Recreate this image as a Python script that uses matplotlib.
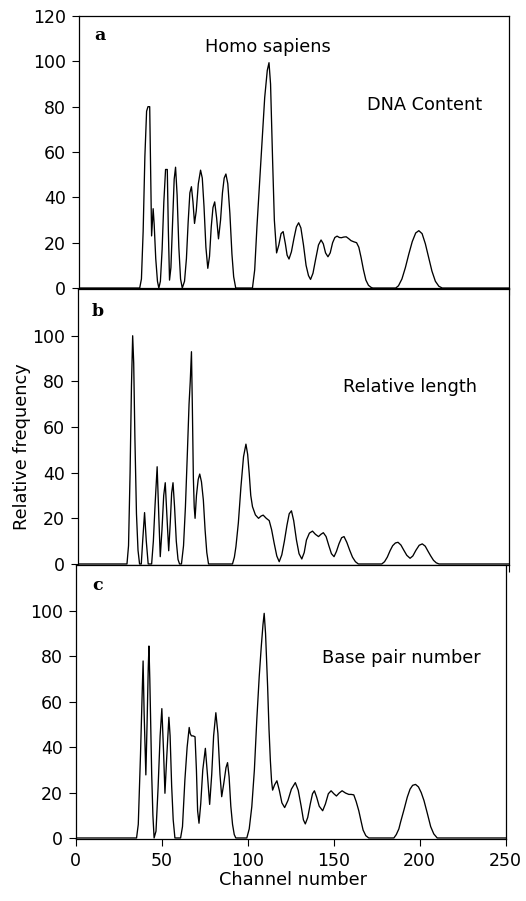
import numpy as np
import matplotlib
matplotlib.use("Agg")
import matplotlib.pyplot as plt

# ---------------- data (channel, relative frequency) ----------------
dna_content = [
    (0, 0), (35.5, 0), (36.5, 4), (37.5, 25), (38.5, 58), (39.5, 78), (40.3, 80), (41.3, 80),
    (41.9, 50), (42.4, 23), (43.3, 35), (43.9, 28), (44.8, 13), (45.8, 3), (46.6, 0), (47.5, 3),
    (48.5, 17), (49.5, 38), (50.5, 52.3), (51.5, 52.3), (52.1, 26), (52.8, 3.5), (53.6, 9),
    (54.6, 30), (55.5, 48), (56.3, 53.3), (57.2, 41), (58.2, 18), (59.2, 4), (60.2, 0), (61.5, 3),
    (62.6, 13), (63.6, 29), (64.6, 42), (65.5, 44.7), (66.4, 38), (67.3, 28.5), (68.3, 34),
    (69.5, 46), (70.8, 52), (71.8, 48.5), (72.8, 36), (73.9, 18), (75.0, 8.7), (76.0, 14),
    (77.0, 27), (78.0, 35.5), (79.0, 38), (80.1, 31), (81.2, 21.7), (82.4, 30), (83.5, 42),
    (84.5, 48.5), (85.5, 50.3), (86.6, 46), (87.8, 33), (89.0, 15), (90.0, 5), (91.2, 0),
    (100.9, 0), (102.2, 8), (103.5, 27), (105.0, 46), (106.4, 64), (108.0, 84), (109.5, 96),
    (110.5, 99.4), (111.4, 90), (112.6, 56), (113.6, 30), (114.9, 15.5), (116.2, 19), (117.5, 24),
    (118.7, 24.9), (120.0, 19.5), (121.0, 14.5), (122.1, 12.8), (123.5, 16), (125.0, 22),
    (126.4, 27), (127.7, 28.8), (129.0, 26.5), (130.5, 19), (132.0, 10), (133.4, 5.5), (134.6, 3.8),
    (136.0, 6.5), (137.5, 12.5), (139.2, 19), (140.7, 21.2), (142.0, 19.5), (143.3, 15.5),
    (144.7, 13.8), (146.0, 15.5), (147.4, 20), (148.7, 22.3), (150.0, 22.9), (151.3, 22.3),
    (152.5, 22.2), (153.9, 22.5), (155.3, 22.6), (156.7, 21.8), (158.1, 20.9), (159.7, 20.4),
    (161.3, 20), (162.6, 18), (163.9, 13.5), (165.3, 8), (166.7, 3.5), (168.2, 1.2), (169.7, 0.3),
    (170.7, 0), (184.0, 0), (185.6, 1), (187.6, 4), (189.6, 9), (191.6, 15), (193.6, 20.5),
    (195.6, 24.3), (197.4, 25.3), (199.3, 24), (201.2, 19.5), (203.1, 13.5), (205.0, 7.5),
    (207.0, 3), (209.0, 0.8), (211.0, 0), (250, 0),
]

relative_length = [
    (0, 0), (28.7, 0), (29.6, 8), (30.5, 40), (31.3, 78), (32.0, 100), (32.6, 88), (33.3, 55),
    (34.2, 22), (35.1, 6), (36.0, 0), (37.0, 0), (37.8, 10), (38.9, 22.5), (39.9, 10), (41.0, 0),
    (43.0, 0), (44.0, 10), (45.0, 26), (46.2, 42.6), (47.2, 20), (48.0, 3.2), (49.0, 15),
    (50.0, 30), (50.9, 35.6), (51.8, 22), (52.9, 5.8), (53.8, 18), (54.6, 31), (55.4, 35.6),
    (56.3, 25), (57.3, 10), (58.3, 2), (59.2, 0), (60.3, 0), (61.5, 8), (62.6, 25), (63.7, 48),
    (64.7, 70), (65.4, 80), (66.1, 93), (66.6, 70), (67.2, 38), (67.7, 25), (68.2, 20), (69.0, 30),
    (70.0, 37), (70.9, 39.4), (71.9, 36), (73.0, 28), (74.0, 15), (75.0, 5), (76.0, 0),
    (89.9, 0), (91.0, 3), (91.9, 7.6), (93.3, 18), (94.8, 33.8), (96.3, 47), (97.7, 52.5),
    (98.7, 48), (99.6, 39.7), (100.5, 30), (101.5, 25.1), (103.2, 21.5), (105.0, 20),
    (106.5, 21), (107.7, 21.4), (109.5, 20), (111.2, 19), (112.6, 15), (114.1, 9), (115.6, 3.5),
    (117.0, 1), (118.5, 4), (120.0, 10), (121.5, 17), (122.8, 22), (124.1, 23.3), (125.4, 19),
    (127.0, 10.5), (128.5, 4.5), (130.1, 2.2), (131.5, 5), (132.8, 10.5), (134.5, 13.5),
    (136.3, 14.4), (138.0, 13), (139.8, 12), (141.2, 13), (142.6, 13.7), (144.2, 12), (145.8, 8),
    (147.3, 4.5), (148.8, 3.2), (150.2, 5.5), (151.7, 8.9), (153.2, 11.5), (154.6, 12),
    (156.2, 9.5), (157.9, 6), (159.5, 3), (161.2, 1), (162.9, 0), (176.5, 0), (178.1, 1),
    (179.7, 3), (181.3, 5.8), (182.8, 8), (184.4, 9.2), (185.9, 9.5), (187.6, 8.3), (189.3, 6),
    (191.0, 3.8), (192.9, 2.5), (194.5, 3.5), (196.3, 6), (198.2, 8.2), (200.0, 8.8),
    (201.7, 7.8), (203.3, 5.6), (204.9, 3.5), (206.5, 1.6), (208.1, 0.5), (209.7, 0), (250, 0),
]

base_pair_number = [
    (0, 0), (35.5, 0), (36.5, 6), (37.8, 37), (38.7, 62), (39.3, 78), (39.9, 55), (40.9, 27.8),
    (41.6, 50), (42.3, 75), (42.7, 84.6), (43.2, 70), (43.6, 55), (44.3, 28), (45.0, 10),
    (45.7, 0), (46.8, 3), (48.0, 22), (49.2, 45), (50.2, 57), (51.2, 38), (52.0, 19.7),
    (53.0, 35), (54.3, 53.2), (55.0, 45), (55.9, 23), (56.8, 8), (57.8, 0), (61.1, 0), (62.2, 5),
    (63.6, 25.6), (64.9, 40), (66.1, 48.7), (66.7, 46), (67.4, 45), (68.3, 45), (69.5, 44.6),
    (70.3, 30), (71.0, 12), (71.8, 6.5), (72.8, 15), (74.0, 30), (75.5, 39.5), (76.7, 28),
    (78.0, 14.8), (79.2, 28), (80.3, 45), (81.6, 55.2), (82.8, 46), (84.0, 28), (85.0, 18.2),
    (86.2, 24), (87.5, 31), (88.4, 33.2), (89.3, 27), (90.3, 14), (91.3, 6), (92.3, 1.5),
    (93.2, 0), (99.6, 0), (101.0, 4), (102.5, 13.8), (104.0, 30), (105.4, 52), (106.8, 71),
    (108.0, 84.3), (109.0, 94), (109.7, 99), (110.5, 90), (111.7, 66.7), (112.5, 48), (113.3, 34),
    (114.0, 25), (114.6, 21.1), (115.8, 23.5), (117.1, 25.2), (118.5, 21), (120.0, 15.5),
    (121.6, 13.4), (123.5, 16.5), (125.5, 21.5), (127.8, 24.4), (129.5, 21), (131.2, 14),
    (132.5, 8), (133.6, 6.2), (135.0, 9), (136.5, 15), (137.8, 19.5), (138.9, 20.8), (140.2, 18),
    (141.7, 14), (143.7, 12), (145.3, 15), (147.0, 19.5), (148.6, 20.8), (150.2, 19.5),
    (151.7, 18.5), (153.3, 19.8), (155.0, 20.8), (157.0, 19.8), (158.9, 19.2), (160.3, 19.2),
    (161.8, 19), (163.2, 16), (164.7, 12), (166.0, 7.5), (167.2, 3.5), (168.8, 1), (170.5, 0),
    (185.1, 0), (186.5, 1.5), (188.0, 4), (189.0, 7), (191.0, 12.5), (192.9, 18), (194.5, 21.5),
    (196.0, 23.2), (197.7, 23.6), (199.4, 22.5), (201.0, 20), (202.6, 16.5), (204.5, 11),
    (206.5, 5), (208.3, 1.8), (210.3, 0), (250, 0),
]

series = [dna_content, relative_length, base_pair_number]
panel_letters = ["a", "b", "c"]
panel_titles = ["DNA Content", "Relative length", "Base pair number"]
species = "Homo sapiens"
x_ticks = [0, 50, 100, 150, 200, 250]
y_ticks_top = [0, 20, 40, 60, 80, 100, 120]
y_ticks_other = [0, 20, 40, 60, 80, 100]
x_label = "Channel number"
y_label = "Relative frequency"

# ---------------- figure ----------------
W, H = 526, 901
plt.rcParams["font.family"] = ["DejaVu Sans"]
fig = plt.figure(figsize=(W / 100, H / 100), dpi=100)

# axes boxes in pixels: left, top, right, bottom
boxes = [(78.5, 16, 509.5, 288.5), (77.5, 288.5, 508.5, 565), (75.5, 565, 505.5, 839)]
ylims = [(-0.2, 120), (-0.45, 120.7), (-0.45, 120.3)]

axes = []
for i, (l, t, r, b) in enumerate(boxes):
    ax = fig.add_axes([l / W, 1 - b / H, (r - l) / W, (b - t) / H])
    pts = np.array(series[i])
    ax.plot(pts[:, 0], pts[:, 1], color="black", lw=0.95, solid_joinstyle="round")
    ax.set_xlim(0, 250)
    ax.set_ylim(*ylims[i])
    ax.set_xticks(x_ticks)
    ax.set_yticks(y_ticks_top if i == 0 else y_ticks_other)
    ax.tick_params(direction="out", length=5, width=0.8, labelsize=12.5, pad=4, colors="black")
    if i < 2:
        ax.tick_params(axis="x", labelbottom=False)
    for s in ax.spines.values():
        s.set_linewidth(0.9)
    axes.append(ax)


def ftext(x, y, s, **kw):
    fig.text(x / W, 1 - y / H, s, **kw)


serif_bold = dict(family=["DejaVu Serif"], fontweight="bold", fontsize=12.5, va="center", ha="left")
ftext(94, 36, panel_letters[0], **serif_bold)
ftext(92, 312, panel_letters[1], **serif_bold)
ftext(92, 585, panel_letters[2], **serif_bold)

lbl = dict(fontsize=12.8, va="center", ha="left")
ftext(205, 47, species, **lbl)
ftext(367, 105, panel_titles[0], **lbl)
ftext(343, 387, panel_titles[1], **lbl)
ftext(322, 658, panel_titles[2], **lbl)

ftext(293, 880, x_label, fontsize=12.8, va="center", ha="center")
ftext(22, 447, y_label, fontsize=12.8, va="center", ha="center", rotation=90)

fig.savefig("out.png", dpi=100)
